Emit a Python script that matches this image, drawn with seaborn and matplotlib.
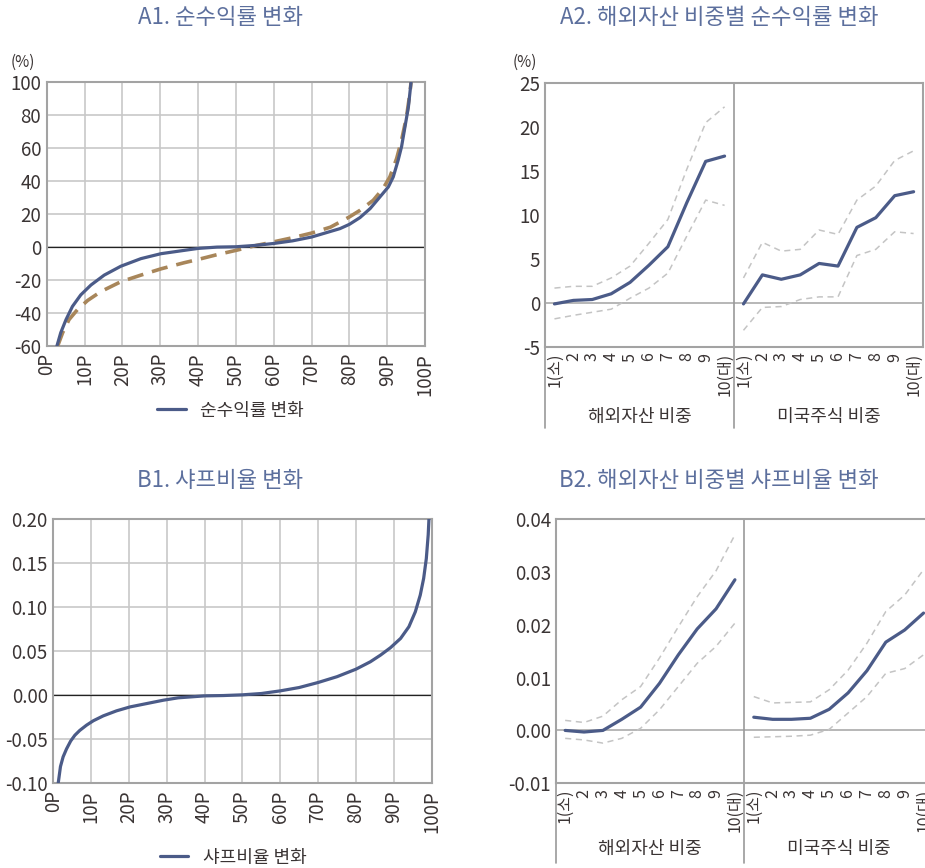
import numpy as np
import pandas as pd
import matplotlib
matplotlib.use("Agg")
import matplotlib.pyplot as plt
import matplotlib.transforms as mtransforms
from matplotlib.lines import Line2D
import seaborn as sns

# ---------------------------------------------------------------- data
# A1: percentile curve of net return change (%)
a1_pct_main = [2.7, 3.7, 5.1, 6.8, 9.0, 11.7, 15.2, 19.6, 24.9, 30.2, 36.3, 40,
               45, 50, 55, 60, 65, 70, 75, 77.5, 80, 82.8, 85.5, 88.1, 90.3,
               91.6, 92.9, 93.8, 94.7, 95.6, 96.3]
a1_main = [-60, -52, -44, -36, -29, -23, -17, -11.6, -7, -4, -2, -0.8, 0, 0.2,
           1.0, 2.2, 3.8, 6.1, 9.5, 11.2, 13.8, 17.9, 23.4, 30.5, 36.5, 42.6,
           52.8, 61, 73, 85, 100]
a1_pct_ref = [2.9, 4.2, 5.9, 8.1, 10.8, 14.3, 19.6, 24.9, 30.2, 36.3, 40, 45,
              50, 55, 60, 65, 70, 75, 77.5, 80, 82.8, 86.3, 88.9, 90.7, 92.5,
              93.8, 95.1, 96.0, 96.3]
a1_ref = [-60, -52, -44, -38, -32.4, -27, -21, -17, -13.2, -9.5, -7.5, -4.6,
          -2.0, 0.8, 3.2, 5.7, 8.5, 12.1, 15.2, 18.3, 22.3, 28.4, 35.5, 42.6,
          53.8, 65, 79, 93.4, 100]

# B1: percentile curve of Sharpe ratio change
b1_pct = [1.3, 1.9, 2.6, 3.5, 4.6, 5.7, 7.0, 8.8, 10.6, 13.2, 16.7, 20.3, 24.7,
          29.1, 33, 40, 45, 50, 55, 60, 65, 70, 75, 80, 83.8, 86.5, 89.1, 91.8,
          94, 95.7, 97, 97.9, 98.6, 99.1, 99.3]
b1_vals = [-0.10, -0.081, -0.070, -0.061, -0.052, -0.0455, -0.040, -0.034,
           -0.029, -0.0235, -0.0178, -0.0133, -0.0095, -0.0057, -0.003,
           -0.0008, -0.0004, 0.0004, 0.0019, 0.0049, 0.0087, 0.0144, 0.021,
           0.0295, 0.0379, 0.0455, 0.0538, 0.0644, 0.0777, 0.0947, 0.1136,
           0.1326, 0.155, 0.182, 0.20]

pct_ticks = list(range(0, 101, 10))
pct_labels = [f"{p}P" for p in pct_ticks]

# A2 / B2: deciles of overseas-asset share and US-equity share
decile_labels = ["1(소)", "2", "3", "4", "5", "6", "7", "8", "9", "10(대)"]
group_names = ["해외자산 비중", "미국주식 비중"]

a2_mid = [[-0.1, 0.3, 0.4, 1.05, 2.35, 4.3, 6.4, 11.4, 16.1, 16.7],
          [-0.1, 3.2, 2.7, 3.2, 4.5, 4.2, 8.6, 9.7, 12.2, 12.65]]
a2_hi = [[1.7, 1.9, 1.9, 2.85, 4.2, 6.8, 9.5, 15.2, 20.5, 22.3],
         [2.85, 6.9, 5.9, 6.1, 8.3, 7.8, 11.7, 13.3, 16.2, 17.3]]
a2_lo = [[-1.8, -1.4, -1.05, -0.7, 0.55, 1.7, 3.4, 7.6, 11.7, 11.1],
         [-3.1, -0.5, -0.4, 0.4, 0.7, 0.7, 5.4, 6.1, 8.1, 7.9]]

b2_mid = [[0.0, -0.0003, 0.0, 0.0021, 0.0044, 0.0089, 0.0143, 0.0192, 0.023, 0.0285],
          [0.0025, 0.0021, 0.0021, 0.0023, 0.0040, 0.0071, 0.0113, 0.0167, 0.019, 0.0222]]
b2_hi = [[0.0019, 0.0015, 0.0027, 0.0058, 0.0083, 0.0137, 0.0196, 0.0253, 0.0302, 0.037],
         [0.0064, 0.0052, 0.0053, 0.0054, 0.0077, 0.0114, 0.0165, 0.0225, 0.0256, 0.0304]]
b2_lo = [[-0.0015, -0.0018, -0.0024, -0.0015, 0.0004, 0.0039, 0.0083, 0.0127, 0.0159, 0.0203],
         [-0.0013, -0.0012, -0.0011, -0.0009, 0.0002, 0.0033, 0.0064, 0.0108, 0.0117, 0.0143]]

# ---------------------------------------------------------------- style
sns.set_theme(style="white")
plt.rcParams["font.family"] = ["Noto Sans CJK KR", "DejaVu Sans"]
plt.rcParams["axes.unicode_minus"] = False

NAVY = "#4b5b88"
BROWN = "#a8865a"
LIGHT = "#c4c4c4"
GRID = "#c8c8c8"
SPINE = "#a3a3a3"
TITLE = "#5c6f9d"
TEXT = "#3a3434"

W, H = 925, 868
fig = plt.figure(figsize=(W / 100, H / 100), dpi=100)

ax_a1 = fig.add_axes([0.0505, 0.6014, 0.4090, 0.3038])
ax_a2 = fig.add_axes([0.5892, 0.6002, 0.4087, 0.3041])
ax_b1 = fig.add_axes([0.0576, 0.0976, 0.4090, 0.3045])
ax_b2 = fig.add_axes([0.6008, 0.0976, 0.4078, 0.3045])


def frame(ax):
    for s in ax.spines.values():
        s.set_color(SPINE)
        s.set_linewidth(1.5)
    ax.tick_params(axis="both", length=0, colors=TEXT, labelsize=13.5)


def percentile_axes(ax, ylim, yticks, yfmt):
    frame(ax)
    ax.set_xlim(0, 100)
    ax.set_ylim(*ylim)
    ax.set_xticks(pct_ticks)
    ax.set_xticklabels(pct_labels, rotation=90)
    ax.set_yticks(yticks)
    ax.set_yticklabels([yfmt(v) for v in yticks])
    ax.tick_params(axis="y", pad=4)
    ax.tick_params(axis="x", pad=5)
    ax.grid(True, color=GRID, linewidth=1.2)
    ax.set_axisbelow(True)
    ax.axhline(0, color="#222222", linewidth=0.9, zorder=2)
    ax.set_xlabel("")
    ax.set_ylabel("")


def decile_axes(ax, ylim, yticks, yfmt, line_depth, label_lift):
    frame(ax)
    ax.set_xlim(0, 20)
    ax.set_ylim(*ylim)
    pos = [i + 0.5 for i in range(20)]
    ax.set_xticks(pos)
    ax.set_xticklabels(decile_labels * 2, rotation=90, fontsize=11.5)
    ax.set_yticks(yticks)
    ax.set_yticklabels([yfmt(v) for v in yticks])
    ax.tick_params(axis="x", pad=4)
    ax.axhline(0, color="#aaaaaa", linewidth=1.2, zorder=1)
    ax.axvline(10, color="#999999", linewidth=1.2, zorder=1)
    trans = mtransforms.blended_transform_factory(ax.transData, ax.transAxes)
    for xv in (0, 10):
        ax.plot([xv, xv], [0, -line_depth], transform=trans, color="#999999",
                linewidth=1.2, clip_on=False)
    for g, name in enumerate(group_names):
        ax.text(g * 10 + 5, -line_depth + label_lift, name, transform=trans,
                ha="center", va="center", fontsize=13, color=TEXT)
    ax.set_xlabel("")
    ax.set_ylabel("")


def draw_deciles(ax, mid, hi, lo):
    for g in range(2):
        xs = [g * 10 + i + 0.5 for i in range(10)]
        for vals, style in ((hi[g], "band"), (lo[g], "band"), (mid[g], "mid")):
            df = pd.DataFrame({"x": xs, "y": vals})
            if style == "band":
                sns.lineplot(data=df, x="x", y="y", ax=ax, color=LIGHT,
                             linewidth=1.1, linestyle=(0, (4, 3)), zorder=3)
            else:
                sns.lineplot(data=df, x="x", y="y", ax=ax, color=NAVY,
                             linewidth=2.3, zorder=4)


def panel_title(text, x_px, y_px):
    fig.text(x_px / W, 1 - y_px / H, text, fontsize=16, color=TITLE,
             ha="center", va="center")


# ---------------------------------------------------------------- A1
sns.lineplot(x=a1_pct_ref, y=a1_ref, ax=ax_a1, color=BROWN, linewidth=2.6,
             linestyle=(0, (4.5, 2.5)), zorder=3)
sns.lineplot(x=a1_pct_main, y=a1_main, ax=ax_a1, color=NAVY, linewidth=2.3,
             zorder=4)
percentile_axes(ax_a1, (-60, 100), list(range(-60, 101, 20)), lambda v: f"{v}")
panel_title("A1. 순수익률 변화", 220, 17)
ax_a1.text(-0.095, 1.045, "(%)", transform=ax_a1.transAxes, fontsize=11,
           color=TEXT, ha="left", va="bottom")
ax_a1.legend(handles=[Line2D([0], [0], color=NAVY, linewidth=2.3)],
             labels=["순수익률 변화"], loc="center", frameon=False,
             bbox_to_anchor=(0.249, 0.527), bbox_transform=fig.transFigure,
             fontsize=13, handlelength=1.6, labelcolor=TEXT)

# ---------------------------------------------------------------- A2
draw_deciles(ax_a2, a2_mid, a2_hi, a2_lo)
decile_axes(ax_a2, (-5, 25), list(range(-5, 26, 5)), lambda v: f"{v}", 0.305,
            0.04)
panel_title("A2. 해외자산 비중별 순수익률 변화", 719, 17)
ax_a2.text(-0.085, 1.045, "(%)", transform=ax_a2.transAxes, fontsize=11,
           color=TEXT, ha="left", va="bottom")

# ---------------------------------------------------------------- B1
sns.lineplot(x=b1_pct, y=b1_vals, ax=ax_b1, color=NAVY, linewidth=2.3, zorder=4)
percentile_axes(ax_b1, (-0.10, 0.20), [-0.10, -0.05, 0.0, 0.05, 0.10, 0.15, 0.20],
                lambda v: f"{v:.2f}")
panel_title("B1. 샤프비율 변화", 220, 480)
ax_b1.legend(handles=[Line2D([0], [0], color=NAVY, linewidth=2.3)],
             labels=["샤프비율 변화"], loc="center", frameon=False,
             bbox_to_anchor=(0.252, 0.012), bbox_transform=fig.transFigure,
             fontsize=13, handlelength=1.6, labelcolor=TEXT)

# ---------------------------------------------------------------- B2
draw_deciles(ax_b2, b2_mid, b2_hi, b2_lo)
decile_axes(ax_b2, (-0.01, 0.04), [-0.01, 0.0, 0.01, 0.02, 0.03, 0.04],
            lambda v: f"{v:.2f}", 0.30, 0.05)
panel_title("B2. 해외자산 비중별 샤프비율 변화", 719, 480)

fig.savefig("out.png", dpi=100)
